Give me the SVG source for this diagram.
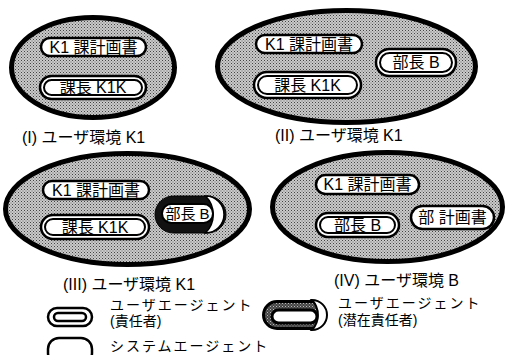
<svg xmlns="http://www.w3.org/2000/svg" width="509" height="355" viewBox="0 0 509 355">
<defs>
<pattern id="dots" width="3" height="3" patternUnits="userSpaceOnUse">
<rect width="3" height="3" fill="#cacaca"/>
<rect x="0" y="0" width="1" height="1" fill="#444"/>
<rect x="1.5" y="1.5" width="1" height="1" fill="#666"/>
</pattern>
<pattern id="dark" width="3" height="3" patternUnits="userSpaceOnUse">
<rect width="3" height="3" fill="#444"/>
<rect x="0" y="0" width="1" height="1" fill="#bbb"/>
<rect x="1.5" y="1.5" width="1" height="1" fill="#999"/>
</pattern>
<style>
.env{fill:url(#dots);stroke:#000;stroke-width:5}
.pill{fill:#fff;stroke:#000;stroke-width:2.5}
.inner{fill:#fff;stroke:#000;stroke-width:2}
.t{font-family:"Liberation Sans","Noto Sans CJK JP",sans-serif;font-size:16px;fill:#000;text-anchor:middle}
.lab{font-family:"Liberation Sans","Noto Sans CJK JP",sans-serif;font-size:16px;fill:#000}
.leg{font-family:"Liberation Sans","Noto Sans CJK JP",sans-serif;font-size:14px;fill:#000}
.sp{letter-spacing:2px}
</style>
</defs>

<g id="env1">
<ellipse class="env" cx="93" cy="67.5" rx="81.5" ry="50"/>
<g id="env1-plan"><rect class="pill" x="41" y="38" width="105" height="18" rx="9"/><text class="t" x="93.5" y="52.5">K1 課計画書</text></g>
<g id="env1-k1k"><rect class="pill" x="40" y="76" width="106" height="23" rx="11.5"/><rect class="inner" x="44" y="80" width="98" height="15" rx="7.5"/><text class="t" x="93" y="93">課長 K1K</text></g>
<text class="lab" x="22" y="143">(I) ユーザ環境 K1</text>
</g>

<g id="env2">
<ellipse class="env" cx="346.5" cy="66.5" rx="129" ry="56"/>
<g id="env2-plan"><rect class="pill" x="256" y="35" width="106" height="18" rx="9"/><text class="t" x="309" y="49.5">K1 課計画書</text></g>
<g id="env2-k1k"><rect class="pill" x="254" y="72" width="107" height="26" rx="13"/><rect class="inner" x="258" y="76" width="99" height="18" rx="9"/><text class="t" x="307.5" y="90.5">課長 K1K</text></g>
<g id="env2-b"><rect class="pill" x="376" y="49" width="80" height="27" rx="13.5"/><rect class="inner" x="380" y="53" width="72" height="19" rx="9.5"/><text class="t" x="416" y="68">部長 B</text></g>
<text class="lab" x="275" y="141">(II) ユーザ環境 K1</text>
</g>

<g id="env3">
<ellipse class="env" cx="127.5" cy="209" rx="122" ry="55.5"/>
<g id="env3-plan"><rect class="pill" x="43" y="181" width="106" height="18" rx="9"/><text class="t" x="96" y="195.5">K1 課計画書</text></g>
<g id="env3-k1k"><rect class="pill" x="41" y="215" width="108" height="24" rx="12"/><rect class="inner" x="45" y="219" width="100" height="16" rx="8"/><text class="t" x="95" y="232.5">課長 K1K</text></g>
<g id="env3-b">
<rect x="155" y="196" width="71" height="37" rx="18.5" fill="#111" stroke="#000" stroke-width="1"/>
<path d="M205.5,196 A18.5,18.5 0 0 1 205.5,233 A26,26 0 0 0 205.5,196 Z" fill="#fff" stroke="#000" stroke-width="1.5"/>
<rect class="inner" x="162" y="204" width="51" height="19" rx="9.5"/>
<text class="t" x="187.5" y="219" style="font-size:15px">部長 B</text>
</g>
<text class="lab" x="63" y="290">(III) ユーザ環境 K1</text>
</g>

<g id="env4">
<ellipse class="env" cx="387.5" cy="207" rx="115" ry="54.5"/>
<g id="env4-plan"><rect class="pill" x="316" y="175" width="103" height="19" rx="9.5"/><text class="t" x="367.5" y="190">K1 課計画書</text></g>
<g id="env4-b"><rect class="pill" x="316" y="213" width="83" height="24" rx="12"/><rect class="inner" x="320" y="217" width="75" height="16" rx="8"/><text class="t" x="357.5" y="230.5">部長 B</text></g>
<g id="env4-plan2"><rect class="pill" x="411" y="206" width="83" height="23" rx="11.5"/><text class="t" x="452.5" y="223">部 計画書</text></g>
<text class="lab" x="334" y="286">(IV) ユーザ環境 B</text>
</g>

<g id="legend">
<g id="leg-user"><rect class="pill" x="48" y="308" width="44" height="18" rx="9"/><rect class="pill" x="54" y="313" width="32" height="8" rx="4"/>
<text class="leg sp" x="110" y="310">ユーザエージェント</text><text class="leg" x="110" y="326">(責任者)</text></g>
<g id="leg-system"><rect class="pill" x="48" y="338" width="44" height="26" rx="11"/>
<text class="leg sp" x="110" y="351">システムエージェント</text></g>
<g id="leg-latent">
<rect x="263.5" y="301.5" width="62" height="27" rx="13.5" fill="url(#dark)" stroke="#000" stroke-width="3"/>
<path d="M312,300 A15,15 0 0 1 312,330 A22,22 0 0 0 312,300 Z" fill="#fff" stroke="#000" stroke-width="2"/>
<rect x="272" y="310" width="45" height="13" rx="6.5" fill="#fff" stroke="#000" stroke-width="3"/>
<text class="leg sp" x="338" y="308">ユーザエージェント</text><text class="leg" x="338" y="325">(潜在責任者)</text></g>
</g>
</svg>
